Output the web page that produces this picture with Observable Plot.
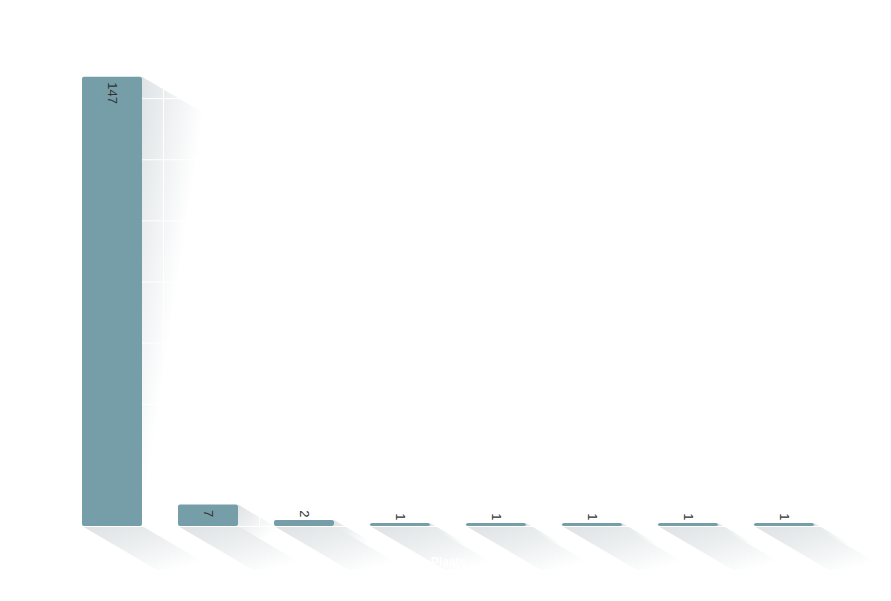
<!DOCTYPE html>
<html>
<head>
<meta charset="utf-8">
<script src="https://cdn.jsdelivr.net/npm/d3@7"></script>
<script src="https://cdn.jsdelivr.net/npm/@observablehq/plot@0.6"></script>
<style>
  html, body { margin: 0; padding: 0; background: #ffffff; }
  #chart { width: 891px; height: 601px; }
</style>
</head>
<body>
<div id="chart"></div>
<script>
const countries = ["Nederland", "Australië", "België", "Haïti", "Indonesië", "Noorwegen", "Verenigd Koninkrijk", "Verenigde Staten"];
const counts = [147, 7, 2, 1, 1, 1, 1, 1];
const yTicks = [0, 20, 40, 60, 80, 100, 120, 140, 160];
const axisTitle = "Plaats";

const data = countries.map((c, i) => ({country: c, count: counts[i]}));

const SHADOW_DX = 75, SHADOW_DY = 44;

function shadows(index, scales) {
  const x = scales.x, y = scales.y;
  const bw = x.bandwidth ? x.bandwidth() : 60;
  const g = d3.create("svg:g");
  const defs = g.append("defs");
  const side = defs.append("linearGradient")
    .attr("id", "shadowSide").attr("x1", 0).attr("y1", 0).attr("x2", 1).attr("y2", 1);
  side.append("stop").attr("offset", 0).attr("stop-color", "#7c8e97").attr("stop-opacity", 0.25);
  side.append("stop").attr("offset", 0.45).attr("stop-color", "#7c8e97").attr("stop-opacity", 0);
  const bottom = defs.append("linearGradient")
    .attr("id", "shadowBottom").attr("x1", 0).attr("y1", 0).attr("x2", 1).attr("y2", 1);
  bottom.append("stop").attr("offset", 0).attr("stop-color", "#7c8e97").attr("stop-opacity", 0.26);
  bottom.append("stop").attr("offset", 0.5).attr("stop-color", "#7c8e97").attr("stop-opacity", 0.12);
  bottom.append("stop").attr("offset", 0.85).attr("stop-color", "#7c8e97").attr("stop-opacity", 0);
  const poly = (pts, fill) => g.append("polygon")
    .attr("points", pts.map(p => p.join(",")).join(" "))
    .attr("fill", fill);
  for (const d of data) {
    const x0 = x(d.country), x1 = x0 + bw;
    const yt = y(d.count), yb = y(0);
    poly([[x0, yb], [x1, yb], [x1 + SHADOW_DX, yb + SHADOW_DY], [x0 + SHADOW_DX, yb + SHADOW_DY]], "url(#shadowBottom)");
    poly([[x1, yt], [x1 + SHADOW_DX, yt + SHADOW_DY], [x1 + SHADOW_DX, yb + SHADOW_DY], [x1, yb]], "url(#shadowSide)");
  }
  return g.node();
}

const plot = Plot.plot({
  width: 891,
  height: 601,
  marginTop: 37,
  marginBottom: 75,
  marginLeft: 45,
  marginRight: 40,
  style: {
    background: "#ffffff",
    color: "#ffffff",
    fontFamily: "'Liberation Sans', Arial, sans-serif",
    fontSize: "11px"
  },
  x: {domain: countries, padding: 0.375, tickSize: 0, tickPadding: 8, label: null},
  y: {domain: [0, 160], axis: null},
  marks: [
    shadows,
    Plot.ruleY(yTicks, {stroke: "#ffffff", strokeWidth: 1}),
    Plot.ruleX(countries, {x: d => d, stroke: "#ffffff", dx: 51}),
    Plot.barY(data, {x: "country", y: "count", fill: "#769ea9", rx: 2}),
    Plot.text(data.filter(d => d.count >= 5), {
      x: "country", y: "count", text: d => String(d.count),
      rotate: 90, textAnchor: "start", dy: 5, fill: "#333333", fontSize: 13
    }),
    Plot.text(data.filter(d => d.count < 5), {
      x: "country", y: "count", text: d => String(d.count),
      rotate: 90, textAnchor: "end", dy: -3, fill: "#333333", fontSize: 13
    }),
    Plot.text([axisTitle], {
      frameAnchor: "bottom", dy: 39, text: d => d,
      fill: "#ffffff", fontWeight: "bold", fontSize: 12
    })
  ]
});

document.getElementById("chart").appendChild(plot);
</script>
</body>
</html>
